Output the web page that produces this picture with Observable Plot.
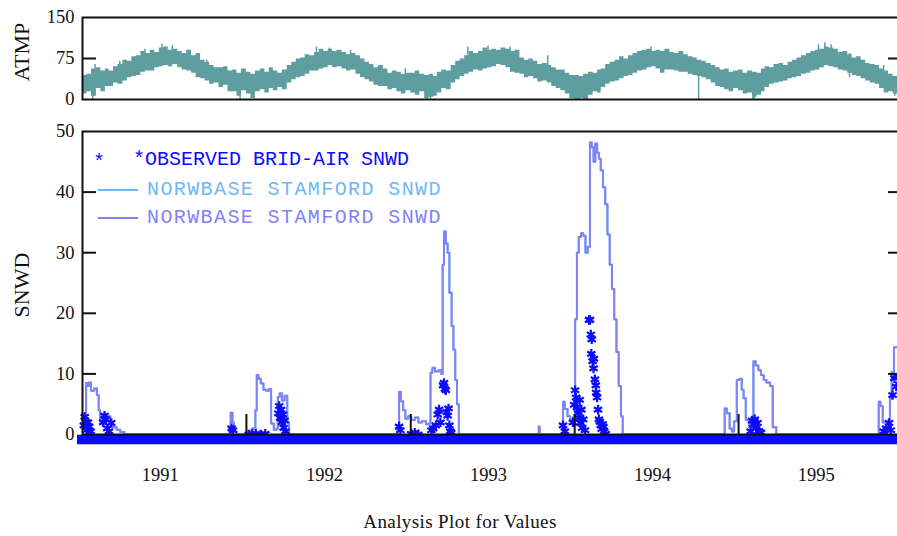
<!DOCTYPE html>
<html>
<head>
<meta charset="utf-8">
<script src="https://cdn.jsdelivr.net/npm/d3@7"></script>
<script src="https://cdn.jsdelivr.net/npm/@observablehq/plot@0.6"></script>
<style>
  html, body { margin: 0; padding: 0; background: #fff; overflow: hidden; }
  #chart { position: relative; width: 897px; height: 536px; overflow: hidden; font-family: "Liberation Serif", serif; }
  #chart svg { position: absolute; left: 0; }
  .ytitle { position: absolute; font-size: 22px; color: #111; transform: translate(-50%, -50%) rotate(-90deg); white-space: nowrap; line-height: 1; }
  .legend { position: absolute; font-family: "Liberation Mono", monospace; font-size: 20px; line-height: 1; white-space: nowrap; transform: translateY(-50%); }
  .swatch { position: absolute; height: 2px; width: 40px; }
  #caption { position: absolute; left: 460px; top: 522px; transform: translate(-50%, -50%); font-size: 19px; letter-spacing: 0.4px; color: #111; white-space: nowrap; }
</style>
</head>
<body>
<div id="chart">
  <div class="ytitle" style="left:22px; top:52px;">ATMP</div>
  <div class="ytitle" style="left:22px; top:285px;">SNWD</div>
  <div id="caption">Analysis Plot for Values</div>
</div>
<script>
// Air temperature: low / high envelope for each ten-day period (1st, 11th, 21st of each month)
const atmpLow1991  = [10,14,6, 20,14,24, 24,30,28, 34,40,42, 44,50,52, 52,58,60, 62,60,64, 58,54,52, 48,40,38, 34,28,30, 22,26,14, 14,6,16];
const atmpHigh1991 = [44,46,56, 58,52,56, 52,60,64, 72,70,78, 80,88,84, 90,86,94, 96,90,92, 88,84,90, 80,84,72, 68,62,58, 58,60,52, 54,48,56];
const atmpLow1992  = [10,2,14, 18,12,20, 16,22,18, 30,36,40, 42,46,52, 52,56,58, 62,58,60, 56,52,54, 46,40,36, 32,26,24, 24,18,20, 14,10,16];
const atmpHigh1992 = [50,46,52, 56,50,58, 52,48,54, 62,68,74, 76,82,80, 86,92,88, 92,88,90, 86,82,84, 80,74,68, 64,58,62, 56,48,52, 50,46,48];
const atmpLow1993  = [12,8,14, 2,4,6, 12,20,18, 30,36,42, 46,50,54, 52,56,58, 60,64,62, 58,50,48, 46,40,42, 38,32,34, 30,24,20, 16,10,2];
const atmpHigh1993 = [48,52,46, 44,46,42, 50,54,52, 62,70,74, 80,88,84, 88,94,90, 92,90,94, 92,88,90, 76,72,74, 70,64,66, 62,58,54, 54,48,44];
const atmpLow1994  = [0,2,0, 8,14,12, 22,28,32, 34,38,42, 44,48,52, 54,58,60, 56,48,54, 54,52,50, 50,46,44, 42,40,36, 30,24,22, 18,14,20];
const atmpHigh1994 = [44,42,46, 50,48,54, 56,64,68, 72,78,74, 80,84,88, 90,92,88, 90,88,92, 86,84,88, 82,78,76, 72,70,66, 62,58,54, 56,50,52];
const atmpLow1995  = [16,10,12, 4,8,14, 22,28,30, 32,34,38, 40,42,46, 48,52,54, 58,62,60, 58,54,52, 48,44,42, 38,34,30, 28,20,12, 14,10,12];
const atmpHigh1995 = [54,48,52, 50,48,56, 60,58,64, 66,62,68, 72,76,80, 84,88,90, 92,96,94, 92,86,88, 82,76,78, 72,66,64, 62,56,52, 46,42,44];

// Single-day extremes that stand out of the envelope: [date, low, high]
const atmpSpikes = [
  ["1991-01-24", 0, 20], ["1991-01-29", 40, 64], ["1991-03-25", 50, 70], ["1991-05-20", 70, 92],
  ["1991-06-27", 80, 101], ["1991-07-20", 82, 98], ["1991-10-05", 60, 72], ["1991-12-18", 0, 12],
  ["1992-06-05", 80, 96], ["1992-07-04", 80, 94], ["1992-08-20", 78, 90], ["1992-12-20", 42, 56],
  ["1993-02-06", 0, 10], ["1993-02-14", 0, 10], ["1993-05-08", 80, 96], ["1993-06-22", 80, 98],
  ["1993-08-10", 85, 96], ["1993-11-02", 60, 80], ["1994-01-12", 0, 10], ["1994-06-20", 80, 96],
  ["1994-10-04", 0, 44], ["1995-02-02", 0, 14], ["1995-02-05", 0, 14], ["1995-06-28", 85, 100],
  ["1995-07-12", 88, 104], ["1995-07-26", 84, 100], ["1995-09-05", 40, 84], ["1995-11-20", 40, 62],
  ["1995-12-15", 6, 20]
];

// Simulated snow depth (NORWBASE STAMFORD SNWD), one array per winter: [date, inches]
const snwdModel1991 = [["1991-01-01",2.5],["1991-01-06",3.5],["1991-01-09",8.5],["1991-01-13",8.0],["1991-01-16",8.6],["1991-01-20",7.2],["1991-01-27",7.6],["1991-02-02",6.5],["1991-02-06",4.0],["1991-02-09",2.2],["1991-02-14",3.4],["1991-02-20",2.6],["1991-02-26",3.0],["1991-03-04",2.0],["1991-03-10",1.2],["1991-03-18",0.8],["1991-03-26",0.4],["1991-04-04",0]];
const snwdModel1992 = [["1991-11-25",0],["1991-11-27",3.6],["1991-12-01",2.0],["1991-12-04",0.5],["1991-12-10",0],["1992-01-05",0],["1992-01-08",0.6],["1992-01-14",1.0],["1992-01-21",4.0],["1992-01-24",9.8],["1992-01-28",9.2],["1992-02-02",8.4],["1992-02-08",7.4],["1992-02-14",7.2],["1992-02-20",7.5],["1992-02-25",1.8],["1992-03-02",0.8],["1992-03-08",1.0],["1992-03-11",6.2],["1992-03-15",6.8],["1992-03-20",5.6],["1992-03-26",6.4],["1992-04-01",2.0],["1992-04-05",0]];
const snwdModel1993 = [["1992-11-28",0],["1992-12-02",1.5],["1992-12-06",7.0],["1992-12-10",5.5],["1992-12-15",4.0],["1992-12-20",2.6],["1992-12-26",3.0],["1993-01-02",2.4],["1993-01-10",2.8],["1993-01-18",2.0],["1993-01-26",2.2],["1993-02-04",1.7],["1993-02-10",1.8],["1993-02-14",10.2],["1993-02-18",11.0],["1993-02-24",10.4],["1993-03-04",10.6],["1993-03-10",10.0],["1993-03-13",28.0],["1993-03-16",33.5],["1993-03-20",31.5],["1993-03-24",30.0],["1993-03-28",23.4],["1993-04-02",17.9],["1993-04-06",14.0],["1993-04-10",9.0],["1993-04-14",5.0],["1993-04-18",0],["1993-10-11",0],["1993-10-13",1.3],["1993-10-15",0]];
const snwdModel1994 = [["1993-12-04",0],["1993-12-06",5.4],["1993-12-10",4.2],["1993-12-16",3.0],["1993-12-22",2.4],["1993-12-28",2.8],["1994-01-02",19.0],["1994-01-06",30.0],["1994-01-10",32.6],["1994-01-15",33.2],["1994-01-20",32.8],["1994-01-25",30.0],["1994-01-30",31.0],["1994-02-04",48.2],["1994-02-08",47.4],["1994-02-12",45.0],["1994-02-16",48.0],["1994-02-20",46.5],["1994-02-24",45.5],["1994-02-28",43.6],["1994-03-05",40.8],["1994-03-10",38.0],["1994-03-15",33.0],["1994-03-20",28.0],["1994-03-25",24.0],["1994-03-30",19.0],["1994-04-04",13.6],["1994-04-09",8.0],["1994-04-14",3.0],["1994-04-18",0]];
const snwdModel1995 = [["1994-11-28",0],["1994-12-01",4.3],["1994-12-06",3.5],["1994-12-12",1.0],["1994-12-17",0.5],["1994-12-22",2.2],["1994-12-28",9.0],["1995-01-03",9.2],["1995-01-08",7.4],["1995-01-12",6.0],["1995-01-17",2.4],["1995-01-24",1.2],["1995-01-30",1.6],["1995-02-03",12.1],["1995-02-08",11.4],["1995-02-14",10.6],["1995-02-20",9.8],["1995-02-26",9.0],["1995-03-04",8.6],["1995-03-12",8.0],["1995-03-18",1.2],["1995-03-26",0]];
const snwdModel1996 = [["1995-11-05",0],["1995-11-09",5.4],["1995-11-13",4.7],["1995-11-18",2.0],["1995-11-24",2.2],["1995-11-30",1.5],["1995-12-04",6.0],["1995-12-08",10.3],["1995-12-13",14.4],["1995-12-24",14.4]];

// Observed snow depth at Bridgeport airport (non-zero days): [date, inches]
const snwdObs1991 = [["1991-01-04",2.0],["1991-01-06",3.4],["1991-01-08",2.6],["1991-01-10",1.2],["1991-01-13",2.5],["1991-01-16",1.8],["1991-01-19",1.0],["1991-02-16",2.5],["1991-02-19",3.6],["1991-02-22",3.0],["1991-02-25",1.5],["1991-03-01",1.0],["1991-03-06",2.4]];
const snwdObs1992 = [["1991-11-29",1.5],["1991-12-02",1.2],["1992-01-06",0.5],["1992-01-14",0.6],["1992-01-22",0.6],["1992-02-02",0.5],["1992-02-12",0.6],["1992-03-12",4.0],["1992-03-14",5.2],["1992-03-16",3.2],["1992-03-18",4.6],["1992-03-20",2.5],["1992-03-22",3.8],["1992-03-24",1.6],["1992-03-26",2.8],["1992-03-28",1.0]];
const snwdObs1993 = [["1992-12-06",1.8],["1992-12-09",1.2],["1993-01-02",0.6],["1993-01-10",0.8],["1993-01-18",0.5],["1993-02-16",1.2],["1993-02-20",1.5],["1993-02-26",2.0],["1993-03-02",3.8],["1993-03-05",4.6],["1993-03-08",2.5],["1993-03-14",8.6],["1993-03-16",9.0],["1993-03-18",8.0],["1993-03-20",7.8],["1993-03-22",4.2],["1993-03-24",3.6],["1993-03-26",4.8],["1993-03-28",2.0],["1993-03-30",1.0],["1993-04-01",0.8]];
const snwdObs1994 = [["1993-12-06",2.0],["1993-12-10",1.0],["1993-12-28",2.5],["1993-12-31",5.4],["1994-01-02",7.8],["1994-01-04",6.6],["1994-01-06",5.0],["1994-01-08",4.0],["1994-01-10",3.2],["1994-01-12",6.2],["1994-01-14",2.4],["1994-01-16",4.6],["1994-01-18",1.6],["1994-01-20",3.0],["1994-01-24",1.2],["1994-02-02",19.4],["1994-02-04",19.4],["1994-02-06",17.0],["1994-02-07",13.8],["1994-02-08",16.2],["1994-02-10",12.6],["1994-02-12",11.4],["1994-02-13",13.0],["1994-02-15",9.6],["1994-02-17",8.6],["1994-02-18",7.4],["1994-02-20",6.6],["1994-02-22",4.6],["1994-02-24",3.0],["1994-02-26",2.6],["1994-02-28",2.0],["1994-03-02",1.4],["1994-03-04",2.2],["1994-03-06",1.8],["1994-03-08",1.0],["1994-03-11",0.6]];
const snwdObs1995 = [["1995-01-28",1.0],["1995-01-31",2.8],["1995-02-03",2.2],["1995-02-06",3.0],["1995-02-09",1.6],["1995-02-12",2.4],["1995-02-16",1.0],["1995-02-20",0.8]];
const snwdObs1996 = [["1995-11-20",1.0],["1995-11-26",1.5],["1995-12-02",2.4],["1995-12-06",1.2],["1995-12-10",7.0],["1995-12-14",9.8],["1995-12-18",8.4],["1995-12-22",10.0]];
// Span of the daily observations recorded as zero depth
const snwdObsZeroSpan = [["1991-01-01", "1995-12-31"]];

// Axis ticks and labels
const atmpTicks = [0, 75, 150];
const snwdTicks = [0, 10, 20, 30, 40, 50];
const years = [1991, 1992, 1993, 1994, 1995];

const teal = "#5f9ea0";
const lightBlue = "#6db8f6";
const periwinkle = "#8282f8";
const obsBlue = "#0b0bff";
const ink = "#111";

const parse = s => new Date(s);
const xDomain = [new Date(Date.UTC(1991, 0, 1)), new Date(Date.UTC(1996, 0, 1))];

function dekads(year, lows, highs) {
  return lows.map((lo, i) => ({
    date: new Date(Date.UTC(year, Math.floor(i / 3), [1, 11, 21][i % 3])),
    lo, hi: highs[i]
  }));
}
const atmp = [
  ...dekads(1991, atmpLow1991, atmpHigh1991),
  ...dekads(1992, atmpLow1992, atmpHigh1992),
  ...dekads(1993, atmpLow1993, atmpHigh1993),
  ...dekads(1994, atmpLow1994, atmpHigh1994),
  ...dekads(1995, atmpLow1995, atmpHigh1995)
];
atmp.push({date: xDomain[1], lo: atmp[atmp.length - 1].lo, hi: atmp[atmp.length - 1].hi});
const spikes = atmpSpikes.map(([d, lo, hi]) => ({date: parse(d), lo, hi}));

const toPoints = arr => arr.map(([d, v]) => ({date: parse(d), value: v}));
const model = toPoints([...snwdModel1991, ...snwdModel1992, ...snwdModel1993, ...snwdModel1994, ...snwdModel1995, ...snwdModel1996])
  .sort((a, b) => a.date - b.date);
const observed = toPoints([...snwdObs1991, ...snwdObs1992, ...snwdObs1993, ...snwdObs1994, ...snwdObs1995, ...snwdObs1996]);
const zeroSpan = snwdObsZeroSpan.map(([a, b]) => ({start: parse(a), end: parse(b)}));

const yearStarts = years.map(y => new Date(Date.UTC(y, 0, 1)));
const yearMids = years.map(y => ({date: new Date(Date.UTC(y, 6, 2)), label: String(y)}));

const W = 902, ML = 82;
const svgStyle = {background: "transparent", maxWidth: "none", overflow: "visible"};
const tickFont = {fontFamily: "Liberation Serif", fontSize: 18.5, fill: ink};

// Inward tick marks on the left and right edges of a panel
function edgeTicks(values) {
  return [
    Plot.ruleY(values, {y: d => d, x1: xDomain[0], x2: xDomain[0], insetRight: -14, stroke: ink, strokeWidth: 2}),
    Plot.ruleY(values, {y: d => d, x1: xDomain[1], x2: xDomain[1], insetLeft: -14, stroke: ink, strokeWidth: 2})
  ];
}

// Upper panel: ATMP
const atmpPanel = Plot.plot({
  width: W, height: 108,
  marginLeft: ML, marginRight: 0, marginTop: 17, marginBottom: 9,
  style: svgStyle,
  x: {type: "utc", domain: xDomain, axis: null},
  y: {domain: [0, 150], axis: null},
  marks: [
    Plot.areaY(atmp, {x: "date", y1: "lo", y2: "hi", curve: "step-after", fill: teal}),
    Plot.ruleX(spikes, {x: "date", y1: "lo", y2: "hi", stroke: teal, strokeWidth: 1.5}),
    Plot.frame({stroke: ink, strokeWidth: 2}),
    ...edgeTicks(atmpTicks.filter(t => t > 0 && t < 150)),
    Plot.text(atmpTicks, {y: d => d, frameAnchor: "left", dx: -8, textAnchor: "end", text: d => String(d), ...tickFont})
  ]
});
atmpPanel.style.top = "0px";

// Lower panel: SNWD
const snwdPanel = Plot.plot({
  width: W, height: 392,
  marginLeft: ML, marginRight: 0, marginTop: 23, marginBottom: 66,
  style: svgStyle,
  x: {type: "utc", domain: xDomain, axis: null},
  y: {domain: [0, 50], axis: null},
  marks: [
    Plot.line(model, {x: "date", y: "value", curve: "step-after", stroke: lightBlue, strokeWidth: 2}),
    Plot.line(model, {x: "date", y: "value", curve: "step-after", stroke: periwinkle, strokeWidth: 2}),
    Plot.ruleY(zeroSpan, {y: 0, x1: "start", x2: "end", stroke: obsBlue, strokeWidth: 9.5, dy: 5, insetLeft: -5}),
    Plot.dot(observed, {x: "date", y: "value", symbol: "asterisk", r: 4.5, stroke: obsBlue, strokeWidth: 2.2, dy: 3}),
    Plot.frame({stroke: ink, strokeWidth: 2}),
    ...edgeTicks(snwdTicks.filter(t => t > 0 && t < 50)),
    Plot.ruleX(yearStarts.slice(1), {x: d => d, y1: 0, y2: 0, insetBottom: 20, stroke: ink, strokeWidth: 2}),
    Plot.text(snwdTicks, {y: d => d, frameAnchor: "left", dx: -8, textAnchor: "end", text: d => String(d), ...tickFont}),
    Plot.text(yearMids, {x: "date", frameAnchor: "bottom", dy: 46, dx: -4, text: "label", ...tickFont})
  ]
});
snwdPanel.style.top = "108px";

const chart = document.getElementById("chart");
chart.prepend(snwdPanel);
chart.prepend(atmpPanel);

// Legend inside the lower panel
const legendRows = [
  {y: 160, kind: "obs", color: obsBlue, label: "*OBSERVED BRID-AIR SNWD", spacing: 0},
  {y: 190, kind: "line", color: lightBlue, label: "NORWBASE STAMFORD SNWD", spacing: 1.4},
  {y: 218, kind: "line", color: periwinkle, label: "NORWBASE STAMFORD SNWD", spacing: 1.4}
];
for (const row of legendRows) {
  if (row.kind === "obs") {
    const star = document.createElement("div");
    star.className = "legend";
    star.style.cssText = `left:93px; top:${row.y + 3}px; color:${row.color};`;
    star.textContent = "*";
    chart.appendChild(star);
    const t = document.createElement("div");
    t.className = "legend";
    t.style.cssText = `left:133px; top:${row.y}px; color:${row.color};`;
    t.textContent = row.label;
    chart.appendChild(t);
  } else {
    const sw = document.createElement("div");
    sw.className = "swatch";
    sw.style.cssText = `left:98px; top:${row.y - 1}px; background:${row.color};`;
    chart.appendChild(sw);
    const t = document.createElement("div");
    t.className = "legend";
    t.style.cssText = `left:147px; top:${row.y}px; color:${row.color}; letter-spacing:${row.spacing}px;`;
    t.textContent = row.label;
    chart.appendChild(t);
  }
}
</script>
</body>
</html>
